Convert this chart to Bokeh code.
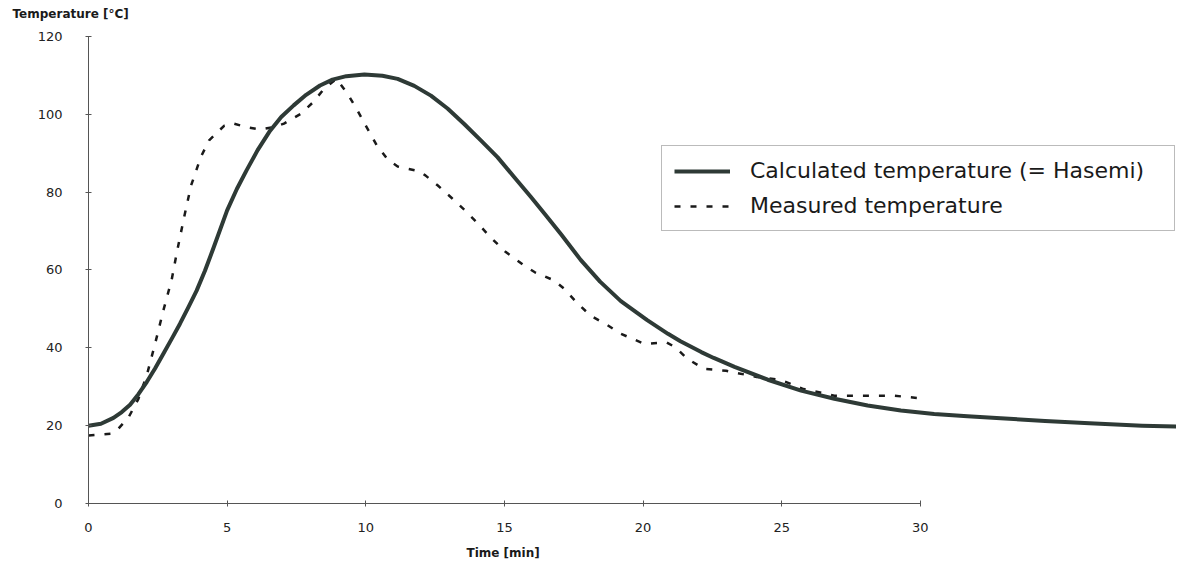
from bokeh.plotting import figure
from bokeh.models import Range1d, FixedTicker, Legend, LegendItem, Title
from bokeh.embed import file_html
from bokeh.resources import INLINE

# ---- data ----
time_meas = [0, 0.8, 1.05, 1.45, 1.8, 2.1, 2.4, 2.7, 3.0, 3.2, 3.45, 3.7, 4.05, 4.35,
             4.9, 5.2, 5.7, 6.2, 6.7, 7.05, 7.65, 8.1, 8.5, 8.95, 9.35, 9.7, 10.0,
             10.4, 10.8, 11.15, 11.9, 12.15, 12.6, 13.1, 13.55, 14.05, 14.5, 15.05,
             15.7, 16.1, 16.8, 17.15, 17.6, 18.1, 18.7, 19.2, 20.05, 20.85, 21.15,
             21.6, 22.2, 23.0, 24.1, 24.95, 25.75, 26.9, 27.95, 29.05, 29.9]
temp_meas = [17.5, 17.9, 19.0, 22.2, 26.9, 32.9, 41.0, 49.6, 57.5, 65.0, 73.6, 81.7,
             89.0, 93.3, 97.1, 97.7, 96.7, 96.1, 96.7, 97.6, 100.1, 103.1, 106.6,
             109.1, 105.2, 101.0, 97.1, 92.0, 88.3, 86.6, 85.4, 84.3, 81.7, 78.5,
             75.5, 71.9, 68.4, 64.6, 61.2, 59.4, 57.3, 55.2, 51.7, 48.3, 45.9, 43.6,
             41.0, 41.4, 40.2, 37.2, 34.6, 34.1, 32.5, 31.8, 29.5, 27.7, 27.7, 27.7,
             27.1]

time_calc = [0, 0.45, 0.9, 1.2, 1.5, 1.8, 2.1, 2.4, 2.7, 3.0, 3.3, 3.6, 3.9, 4.2, 4.5,
             5.0, 5.35, 5.7, 6.1, 6.55, 6.95, 7.4, 7.85, 8.35, 8.8, 9.3, 9.95, 10.6,
             11.15, 11.75, 12.35, 12.95, 13.55, 14.15, 14.75, 15.35, 15.95, 16.5,
             17.05, 17.75, 18.45, 19.2, 19.65, 20.15, 20.9, 21.35, 22.1, 22.55, 23.3,
             24.5, 25.7, 26.9, 28.1, 29.3, 30.5, 31.7, 32.9, 34.5, 36.1, 38.0, 40.0]
temp_calc = [20.0, 20.5, 22.0, 23.5, 25.4, 28.1, 31.2, 34.7, 38.5, 42.3, 46.2, 50.4,
             54.7, 59.8, 65.5, 75.3, 80.8, 85.6, 90.8, 95.8, 99.3, 102.3, 105.0,
             107.4, 108.9, 109.8, 110.2, 109.9, 109.1, 107.3, 104.8, 101.5, 97.5,
             93.3, 89.0, 83.9, 78.8, 74.0, 69.1, 62.6, 57.0, 52.0, 49.7, 47.1, 43.6,
             41.7, 38.9, 37.4, 35.1, 31.8, 29.0, 26.9, 25.2, 23.9, 23.0, 22.4, 21.9,
             21.2, 20.6, 20.0, 19.6]

x_ticks = [0, 5, 10, 15, 20, 25, 30]
y_ticks = [0, 20, 40, 60, 80, 100, 120]

series_labels = ["Calculated temperature (= Hasemi)", "Measured temperature"]
x_title = "Time [min]"
y_title = "Temperature [°C]"

FONT = "DejaVu Sans"

p = figure(width=1176, height=559,
           x_range=Range1d(0, 39.24), y_range=Range1d(0, 124.1),
           min_border_left=88, min_border_right=0, min_border_top=20,
           min_border_bottom=56,
           output_backend="svg", toolbar_location=None,
           background_fill_color="white", border_fill_color="white")
p.outline_line_color = None
p.xgrid.visible = False
p.ygrid.visible = False

r_meas = p.line(time_meas, temp_meas, line_width=2.5, line_color="#1a1a1a",
                line_dash="6 10")
r_calc = p.line(time_calc, temp_calc, line_width=4, line_color="#2e3a36",
                line_join="round")

for ax, ticks, bnds, so in ((p.xaxis, x_ticks, (0, 30), 16),
                            (p.yaxis, y_ticks, (0, 120), 23)):
    ax.ticker = FixedTicker(ticks=ticks)
    ax.bounds = bnds
    ax.minor_tick_line_color = None
    ax.major_tick_in = 3
    ax.major_tick_out = 3
    ax.axis_line_color = "#555555"
    ax.major_tick_line_color = "#555555"
    ax.major_label_text_font = FONT
    ax.major_label_text_font_size = "13px"
    ax.major_label_text_color = "#222222"
    ax.major_label_standoff = so

# empty spacer label pushes the x title slightly lower
p.xaxis.axis_label = " "
p.xaxis.axis_label_text_font_size = "2px"
p.xaxis.axis_label_standoff = 4

legend = Legend(items=[LegendItem(label=series_labels[0], renderers=[r_calc]),
                       LegendItem(label=series_labels[1], renderers=[r_meas])],
                location=(573, 272))
legend.label_text_font = FONT
legend.label_text_font_size = "22px"
legend.label_text_color = "#1a1a1a"
legend.glyph_width = 56
legend.glyph_height = 24
legend.label_height = 24
legend.label_standoff = 20
legend.label_width = 412
legend.spacing = 10
legend.padding = 12
legend.margin = 0
legend.border_line_color = "#777777"
legend.border_line_width = 1
legend.background_fill_color = "white"
legend.background_fill_alpha = 1
p.add_layout(legend)

p.add_layout(Title(text=y_title, align="left", offset=-76, standoff=0,
                   text_font=FONT, text_font_style="bold", text_font_size="12px",
                   text_color="#1a1a1a"), "above")
p.add_layout(Title(text=x_title, align="left", offset=378, standoff=0,
                   text_font=FONT, text_font_style="bold", text_font_size="12px",
                   text_color="#1a1a1a"), "below")

open("out.html", "w").write(file_html(p, INLINE))
